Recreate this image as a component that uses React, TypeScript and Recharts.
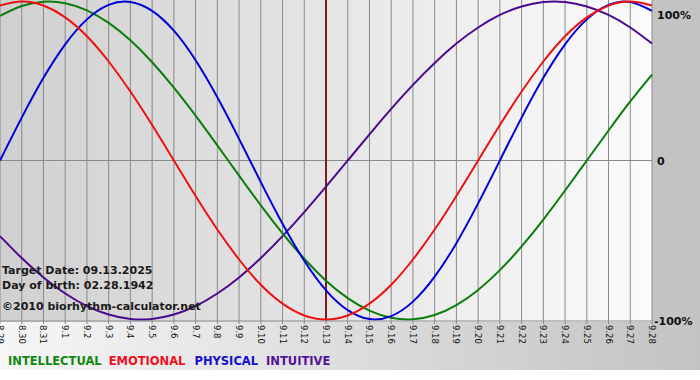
import React from "react";
import { LineChart, Line, XAxis, YAxis, CartesianGrid, ReferenceLine } from "recharts";

const days = [
  "8.29", "8.30", "8.31", "9.1", "9.2", "9.3", "9.4", "9.5", "9.6", "9.7", "9.8",
  "9.9", "9.10", "9.11", "9.12", "9.13", "9.14", "9.15", "9.16", "9.17", "9.18",
  "9.19", "9.20", "9.21", "9.22", "9.23", "9.24", "9.25", "9.26", "9.27", "9.28",
];

const intellectual = [
  0.91, 0.972, 0.999, 0.99, 0.945, 0.866, 0.756, 0.618, 0.458, 0.282, 0.095,
  -0.095, -0.282, -0.458, -0.618, -0.756, -0.866, -0.945, -0.99, -0.999, -0.972,
  -0.91, -0.815, -0.69, -0.541, -0.372, -0.189, 0, 0.189, 0.372, 0.541,
];

const emotional = [
  0.975, 1.0, 0.975, 0.901, 0.782, 0.623, 0.434, 0.223, 0, -0.223, -0.434,
  -0.623, -0.782, -0.901, -0.975, -1.0, -0.975, -0.901, -0.782, -0.623, -0.434,
  -0.223, 0, 0.223, 0.434, 0.623, 0.782, 0.901, 0.975, 1.0, 0.975,
];

const physical = [
  0, 0.27, 0.52, 0.731, 0.888, 0.979, 0.998, 0.942, 0.817, 0.631, 0.398,
  0.136, -0.136, -0.398, -0.631, -0.817, -0.942, -0.998, -0.979, -0.888, -0.731,
  -0.52, -0.27, 0, 0.27, 0.52, 0.731, 0.888, 0.979, 0.998, 0.942,
];

const intuitive = [
  -0.476, -0.614, -0.736, -0.837, -0.916, -0.969, -0.997, -0.997, -0.969, -0.916, -0.837,
  -0.736, -0.614, -0.476, -0.325, -0.165, 0, 0.165, 0.325, 0.476, 0.614,
  0.736, 0.837, 0.916, 0.969, 0.997, 0.997, 0.969, 0.916, 0.837, 0.736,
];

const yTicks = [-1, 0, 1];
const yLabels: Record<number, string> = { "-1": "-100%", "0": "0", "1": "100%" };

const targetDay = "9.13";

const data = days.map((d, i) => ({
  day: d,
  intellectual: intellectual[i],
  emotional: emotional[i],
  physical: physical[i],
  intuitive: intuitive[i],
}));

const font = "'DejaVu Sans', Verdana, sans-serif";

function DayTick(props: any) {
  const { x, y, payload } = props;
  return (
    <text
      transform={`translate(${x},${y - 1}) rotate(90)`}
      textAnchor="start"
      dy="0.35em"
      fontSize={8.5}
      fontFamily={font}
      fill="#111"
    >
      {payload.value}
    </text>
  );
}

function PctTick(props: any) {
  const { y, payload } = props;
  const v = payload.value;
  const dy = v === 1 ? 6 : v === -1 ? 2 : 1;
  return (
    <text
      x={v === -1 ? 654 : 657}
      y={y + dy}
      dy="0.35em"
      fontSize={11}
      fontWeight="bold"
      fontFamily={font}
      fill="#111"
    >
      {yLabels[v]}
    </text>
  );
}

export default function App() {
  return (
    <div style={{ position: "absolute", left: 0, top: 0, width: 700, height: 380, background: "#fff", overflow: "hidden" }}>
      <div style={{ position: "absolute", left: 0, top: 0, width: 652, height: 322, background: "linear-gradient(to right, #d0d0d0, #fbfbfb)" }} />
      <div style={{ position: "absolute", left: 652, top: 0, width: 48, height: 322, background: "#c3c3c3" }} />
      <div style={{ position: "absolute", left: 0, top: 322, width: 700, height: 48, background: "linear-gradient(to right, #f6f6f6, #c3c3c3)" }} />
      <div style={{ position: "absolute", left: 0, top: 0 }}>
        <LineChart width={700} height={380} data={data} margin={{ top: 0, right: 0, left: 0, bottom: 29 }}>
          <CartesianGrid horizontal={false} stroke="#8a8a8a" strokeWidth={1} />
          <XAxis
            dataKey="day"
            interval={0}
            height={30}
            tickSize={3}
            tickMargin={2}
            stroke="#8a8a8a"
            tick={<DayTick />}
          />
          <YAxis
            orientation="right"
            width={48}
            domain={[-1.01, 1.01]}
            ticks={yTicks}
            axisLine={false}
            tickLine={false}
            tick={<PctTick />}
          />
          <ReferenceLine y={0} stroke="#8a8a8a" />
          <ReferenceLine x={targetDay} stroke="#7a1c1c" strokeWidth={2} />
          <Line type="natural" dataKey="intuitive" stroke="#4b0a8c" strokeWidth={2} dot={false} activeDot={false} isAnimationActive={false} />
          <Line type="natural" dataKey="intellectual" stroke="#0a7d0a" strokeWidth={2} dot={false} activeDot={false} isAnimationActive={false} />
          <Line type="natural" dataKey="physical" stroke="#0000d8" strokeWidth={2} dot={false} activeDot={false} isAnimationActive={false} />
          <Line type="natural" dataKey="emotional" stroke="#ee1111" strokeWidth={2} dot={false} activeDot={false} isAnimationActive={false} />
        </LineChart>
      </div>
      <div style={{ position: "absolute", left: 2, top: 263, fontFamily: font, fontWeight: "bold", fontSize: 11, color: "#1a1a1a", lineHeight: "15px" }}>
        <div>Target Date: 09.13.2025</div>
        <div>Day of birth: 02.28.1942</div>
        <div style={{ marginTop: 6 }}>©2010 biorhythm-calculator.net</div>
      </div>
      <div style={{ position: "absolute", left: 8, top: 353, fontFamily: font, fontWeight: "bold", fontSize: 11.5, lineHeight: "16px", whiteSpace: "nowrap" }}>
        <span style={{ color: "#118811", marginRight: 7 }}>INTELLECTUAL</span>
        <span style={{ color: "#ee1122", marginRight: 9 }}>EMOTIONAL</span>
        <span style={{ color: "#1111cc", marginRight: 8 }}>PHYSICAL</span>
        <span style={{ color: "#551199" }}>INTUITIVE</span>
      </div>
    </div>
  );
}
